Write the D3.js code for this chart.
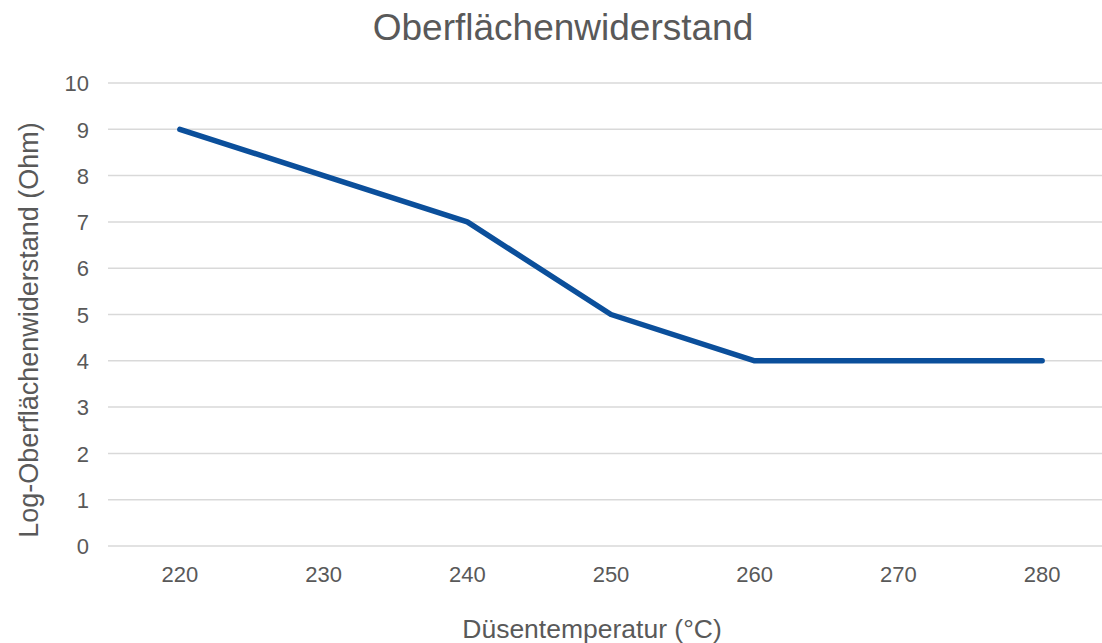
<!DOCTYPE html>
<html>
<head>
<meta charset="utf-8">
<script src="https://cdn.jsdelivr.net/npm/d3@7"></script>
<style>
  body { margin: 0; background: #fff; }
  text { font-family: "Liberation Sans", Arial, sans-serif; fill: #595959; }
</style>
</head>
<body>
<svg></svg>
<script>
// data
var temperatures = ["220", "230", "240", "250", "260", "270", "280"];
var logResistance = [9, 8, 7, 5, 4, 4, 4];
var yTicks = [0, 1, 2, 3, 4, 5, 6, 7, 8, 9, 10];

var lineColor = "#0b4f9b";
var gridColor = "#d9d9d9";

var svgWidth = 1102, svgHeight = 643;
var svg = d3.select("svg")
    .attr("width", svgWidth)
    .attr("height", svgHeight);

var plotLeft = 108, plotRight = 1114, plotTop = 83, plotBottom = 546;

var xScale = d3.scaleBand()
    .domain(temperatures)
    .range([plotLeft, plotRight]);

var yScale = d3.scaleLinear()
    .domain([0, 10])
    .range([plotBottom, plotTop]);

// horizontal gridlines
svg.append("g")
    .selectAll("line")
    .data(yTicks)
    .enter().append("line")
    .attr("x1", plotLeft)
    .attr("x2", plotRight)
    .attr("y1", function(d) { return yScale(d); })
    .attr("y2", function(d) { return yScale(d); })
    .attr("stroke", gridColor)
    .attr("stroke-width", 1.5);

// y axis labels (no domain line)
var yAxis = d3.axisLeft(yScale).tickValues(yTicks).tickSize(0).tickPadding(19);
var gy = svg.append("g")
    .attr("transform", "translate(" + plotLeft + ",0)")
    .call(yAxis);
gy.select(".domain").remove();
gy.selectAll("text")
    .style("font-size", "22px")
    .attr("dy", "0.35em");

// x axis labels
var xAxis = d3.axisBottom(xScale).tickSize(0).tickPadding(20);
var gx = svg.append("g")
    .attr("transform", "translate(0," + plotBottom + ")")
    .call(xAxis);
gx.select(".domain").remove();
gx.selectAll("text")
    .style("font-size", "22px");

// the line
var line = d3.line()
    .x(function(d, i) { return xScale(temperatures[i]) + xScale.bandwidth() / 2; })
    .y(function(d) { return yScale(d); });

svg.append("path")
    .datum(logResistance)
    .attr("d", line)
    .attr("fill", "none")
    .attr("stroke", lineColor)
    .attr("stroke-width", 5.5)
    .attr("stroke-linecap", "round")
    .attr("stroke-linejoin", "round");

// title
svg.append("text")
    .attr("x", 563)
    .attr("y", 40)
    .attr("text-anchor", "middle")
    .style("font-size", "37px")
    .text("Oberflächenwiderstand");

// x axis title
svg.append("text")
    .attr("x", 592)
    .attr("y", 638)
    .attr("text-anchor", "middle")
    .style("font-size", "26.5px")
    .text("Düsentemperatur (°C)");

// y axis title
svg.append("text")
    .attr("transform", "translate(38,330) rotate(-90)")
    .attr("text-anchor", "middle")
    .style("font-size", "27px")
    .text("Log-Oberflächenwiderstand (Ohm)");
</script>
</body>
</html>
